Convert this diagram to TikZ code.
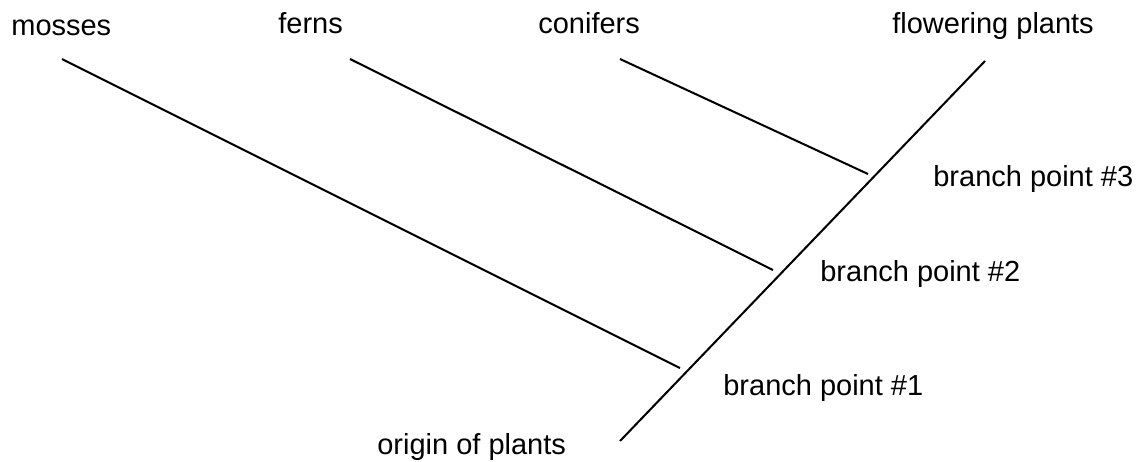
\documentclass[tikz,border=0pt]{standalone}
\usepackage{fontspec}
\setmainfont{Liberation Sans}
\begin{document}
\begin{tikzpicture}[x=0.02cm,y=-0.02cm]
		\tikzstyle{every node}+=[inner sep=0pt, anchor=base west, font=\fontsize{16.5}{19}\selectfont]
		\tikzstyle{branch}=[black, line width=1.15pt]
		\useasboundingbox (0,0) rectangle (1141,461);
		% trunk
		\coordinate (root) at (620,441);
		\coordinate (top) at (985,61);
		\draw [branch] (root) -- (top);
		% side branches
		\coordinate (mossTip) at (62,59);
		\coordinate (bp1) at (680,368);
		\draw [branch] (mossTip) -- (bp1);
		\coordinate (fernTip) at (350,59);
		\coordinate (bp2) at (773,270);
		\draw [branch] (fernTip) -- (bp2);
		\coordinate (conTip) at (620,59);
		\coordinate (bp3) at (868,174);
		\draw [branch] (conTip) -- (bp3);
		% labels
		\node (mosses) at (11,35) {mosses};
		\node (ferns) at (278,33) {ferns};
		\node (conifers) at (538,33) {conifers};
		\node (flowering) at (892,33) {flowering plants};
		\node (bp3label) at (933,186) {branch point \#3};
		\node (bp2label) at (820,281) {branch point \#2};
		\node (bp1label) at (723,395) {branch point \#1};
		\node (origin) at (377,454) {origin of plants};
	\end{tikzpicture}
\end{document}
